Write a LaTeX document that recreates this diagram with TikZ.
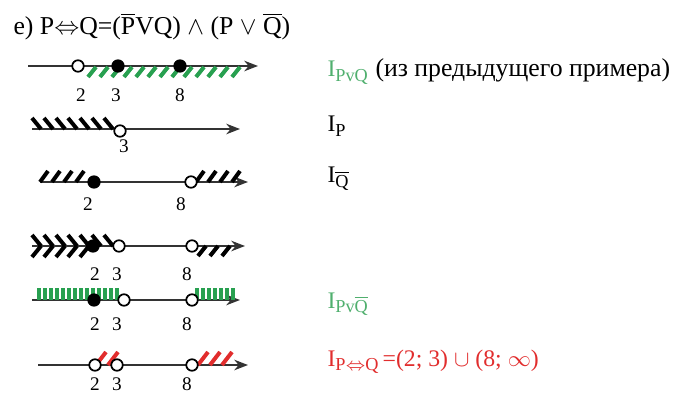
\documentclass[tikz,border=0pt]{standalone}
\usepackage{fontspec}
\setmainfont{Liberation Serif}
\usetikzlibrary{arrows.meta,positioning}
\definecolor{HatchGreen}{RGB}{40,160,80}
\definecolor{LabelGreen}{RGB}{80,175,110}
\definecolor{MarkRed}{RGB}{225,45,45}
\newcommand{\lowsub}[1]{\raisebox{-0.45ex}{\fontsize{7.3}{8}\selectfont #1}}
\tikzset{
  axis/.style={draw=black!80,line width=0.8pt,-{Stealth[length=5.5pt,width=4.2pt]}},
  opendot/.style={circle,draw=black,fill=white,line width=0.7pt,inner sep=0pt,
    minimum size=4.6pt},
  fulldot/.style={circle,draw=black,fill=black,line width=0.7pt,inner sep=0pt,
    minimum size=4.6pt},
  numlab/.style={anchor=base,inner sep=0pt,font=\fontsize{7.7}{9}\selectfont},
  setlab/.style={anchor=base west,inner sep=0pt,font=\fontsize{9.5}{11}\selectfont},
  bhatch/.style={black,line width=1.6pt},
  ghatch/.style={HatchGreen,line width=1.6pt},
  rhatch/.style={MarkRed,line width=1.6pt}
}

\begin{document}
\begin{tikzpicture}[x=0.4pt,y=-0.4pt]
  \useasboundingbox (0,0) rectangle (677,392);
  \node[anchor=base west,inner sep=0pt,font=\fontsize{10.3}{12}\selectfont] (title) at (13,35)
    {e)\ P$\Leftrightarrow$Q=($\overline{\mbox{P}}$VQ) $\wedge$ (P $\vee$ $\overline{\mbox{Q}}$)};

  % I_{P v Q}
  \coordinate (s1) at (28,66); \coordinate (e1) at (258,66);
  \draw[axis] (s1) -- (e1);
  \foreach \x in {88,100,...,242} \draw[ghatch] (\x,77) -- ++(8,-10);
  \node[opendot] (a2) at (78,66) {};
  \node[fulldot] (a3) at (118,66) {};
  \node[fulldot] (a8) at (180,66) {};
  \node[numlab] (la2) at (81,102) {2};
  \node[numlab] (la3) at (116,102) {3};
  \node[numlab] (la8) at (180,102) {8};

  % I_P
  \coordinate (s2) at (32,129); \coordinate (e2) at (240,129);
  \draw[axis] (s2) -- (e2);
  \foreach \x in {32,44,...,104} \draw[bhatch] (\x,118) -- ++(9,11);
  \node[opendot] (b3) at (120,131) {};
  \node[numlab] (lb3) at (124,153) {3};

  % I_{not Q}
  \coordinate (s3) at (40,182); \coordinate (e3) at (248,182);
  \draw[axis] (s3) -- (e3);
  \foreach \x in {40,52,64,76} \draw[bhatch] (\x,182) -- ++(8,-11);
  \foreach \x in {196,208,220,232} \draw[bhatch] (\x,182) -- ++(8,-11);
  \node[fulldot] (c2) at (94,182) {};
  \node[opendot] (c8) at (191,182) {};
  \node[numlab] (lc2) at (88,210) {2};
  \node[numlab] (lc8) at (181,210) {8};

  % overlay
  \coordinate (s4) at (32,246); \coordinate (e4) at (245,246);
  \draw[axis] (s4) -- (e4);
  \foreach \x in {32,44,...,104} \draw[bhatch] (\x,235) -- ++(9,11);
  \foreach \x in {32,44,...,80} \draw[bhatch] (\x,257) -- ++(9,-11);
  \foreach \x in {198,210,222} \draw[bhatch] (\x,256) -- ++(8,-10);
  \node[fulldot] (d2) at (93,246) {};
  \node[opendot] (d3) at (119,246) {};
  \node[opendot] (d8) at (192,246) {};
  \node[numlab] (ld2) at (95,280) {2};
  \node[numlab] (ld3) at (117,280) {3};
  \node[numlab] (ld8) at (187,280) {8};

  % I_{P v not Q}
  \coordinate (s5) at (32,300); \coordinate (e5) at (240,300);
  \draw[axis] (s5) -- (e5);
  \foreach \x in {39,45,...,117} \draw[ghatch] (\x,288) -- ++(0,12);
  \foreach \x in {197,203,...,233} \draw[ghatch] (\x,288) -- ++(0,12);
  \node[fulldot] (f2) at (94,300) {};
  \node[opendot] (f3) at (124,300) {};
  \node[opendot] (f8) at (192,300) {};
  \node[numlab] (lf2) at (95,330) {2};
  \node[numlab] (lf3) at (117,330) {3};
  \node[numlab] (lf8) at (187,330) {8};

  % I_{P <=> Q}
  \coordinate (s6) at (38,365); \coordinate (e6) at (248,365);
  \draw[axis] (s6) -- (e6);
  \foreach \x in {96,108} \draw[rhatch] (\x,365) -- ++(10,-13);
  \foreach \x in {198,210,222} \draw[rhatch] (\x,365) -- ++(10,-13);
  \node[opendot] (g2) at (95,365) {};
  \node[opendot] (g3) at (117,365) {};
  \node[opendot] (g8) at (192,365) {};
  \node[numlab] (lg2) at (95,390) {2};
  \node[numlab] (lg3) at (117,390) {3};
  \node[numlab] (lg8) at (187,390) {8};

  % set names
  \node[setlab,LabelGreen] (n1) at (327,77) {I\lowsub{PvQ}};
  \node[setlab,anchor=base west,font=\fontsize{10.3}{12}\selectfont] (note) at (375,77)
    {(из предыдущего примера)};
  \node[setlab] (n2) at (327,132) {I\lowsub{P}};
  \node[setlab] (n3) at (327,183) {I\lowsub{$\overline{\mbox{Q}}$}};
  \node[setlab,LabelGreen] (n5) at (327,308) {I\lowsub{Pv$\overline{\mbox{Q}}$}};
  \node[setlab,MarkRed] (n6) at (327,366)
    {I\lowsub{P$\Leftrightarrow$Q}\,=(2; 3) $\cup$ (8; $\infty$)};
\end{tikzpicture}
\end{document}
